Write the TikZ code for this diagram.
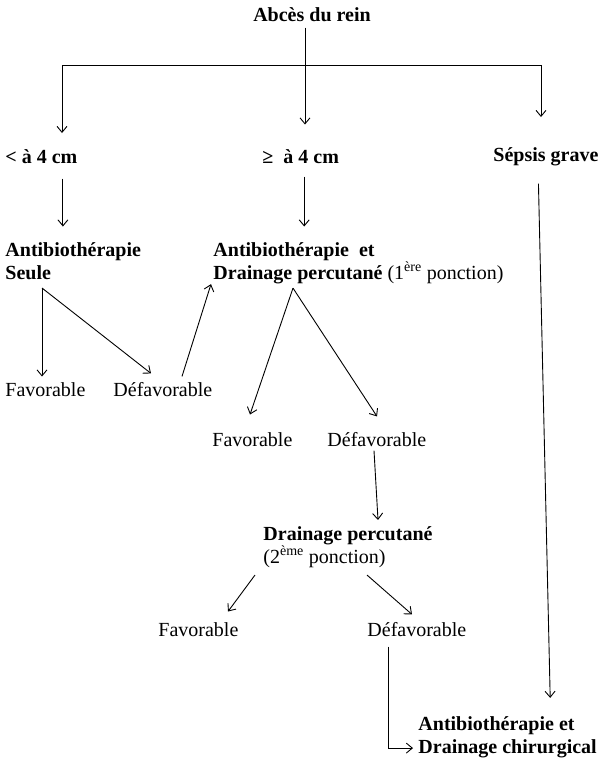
\documentclass[tikz,border=0pt]{standalone}
\usepackage{fontspec}
\setmainfont{Liberation Serif}
\usepackage{tikz}
\usetikzlibrary{arrows.meta,calc}

\begin{document}
\begin{tikzpicture}[x=1pt,y=-1pt,>={Straight Barb[length=6pt,width=10pt]},line width=0.9pt,
  txt/.style={inner sep=0pt,anchor=west,font=\fontsize{20}{23}\selectfont,align=left},
  gras/.style={txt,font=\fontsize{20}{23}\selectfont\bfseries}]
\useasboundingbox (0,0) rectangle (606,764);
% niveaux
\node[gras,anchor=center] (abces) at (312,15) {Abcès du rein};
\node[gras] (petit) at (5,157) {< à 4 cm};
\node[gras] (grand) at (262,157) {≥\ \ à 4 cm};
\node[gras] (sepsis) at (493,157) {Sépsis grave};
\node[gras] (atb) at (5,261) {Antibiothérapie\\Seule};
\node[gras] (atbdp) at (213,263) {Antibiothérapie\ \ et\\Drainage percutané
  {\mdseries(1\textsuperscript{ère} ponction)}};
\node[txt] (fav1) at (5,390) {Favorable};
\node[txt] (def1) at (113,390) {Défavorable};
\node[txt] (fav2) at (212,440) {Favorable};
\node[txt] (def2) at (327,440) {Défavorable};
\node[gras] (dp2) at (263,547) {Drainage percutané\\{\mdseries(2\textsuperscript{ème} ponction)}};
\node[txt] (fav3) at (158,630) {Favorable};
\node[txt] (def3) at (367,630) {Défavorable};
\node[gras] (chir) at (418,737) {Antibiothérapie et\\Drainage chirurgical};
% fleches
\coordinate (busg) at (62,65);
\coordinate (busd) at (541,65);
\draw (busg) -- (busd);
\draw[->] ($(abces.south)+(-7,5)$) -- ++(0,97);
\draw[->] (busg) -- ++(0,68);
\draw[->] (busd) -- ++(0,52);
\draw[->] ($(petit.south)+(21.5,14)$) -- ++(0,48);
\draw[->] ($(grand.south)+(3.5,12)$) -- ++(0,50);
\draw[->] ($(sepsis.south)+(-7.5,17)$) -- ($(chir.north east)+(-47,-18)$);
\draw[->] ($(atb.south west)+(37,8)$) -- ($(fav1.north west)+(37,-6)$);
\draw[->] ($(atb.south west)+(37,8)$) -- ($(def1.north west)+(38,-9)$);
\draw[->] ($(def1.north west)+(69,-6)$) -- ($(atbdp.south west)+(-2,0)$);
\draw[->] ($(atbdp.south west)+(80,4)$) -- ($(fav2.north west)+(38,-18)$);
\draw[->] ($(atbdp.south west)+(80,4)$) -- ($(def2.north west)+(50,-16)$);
\draw[->] ($(def2.south west)+(47,3)$) -- ($(dp2.north west)+(115,-6)$);
\draw[->] ($(dp2.south west)+(-8,7)$) -- ($(fav3.north west)+(70,-11)$);
\draw[->] ($(dp2.south west)+(104,7)$) -- ($(def3.north west)+(45,-8)$);
\draw[->] ($(def3.south west)+(21,9)$) |- ($(chir.south west)+(-5,-10)$);
\end{tikzpicture}
\end{document}
